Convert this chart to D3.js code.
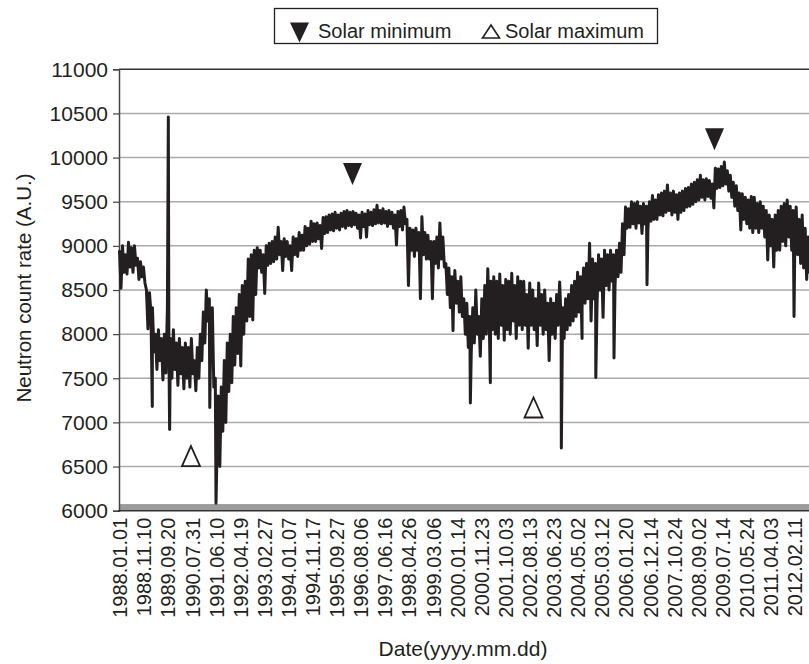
<!DOCTYPE html>
<html>
<head>
<meta charset="utf-8">
<script src="https://cdn.jsdelivr.net/npm/d3@7"></script>
<style>
  html, body { margin: 0; padding: 0; background: #fff; }
  svg { display: block; }
  text { font-family: "Liberation Sans", Arial, Helvetica, sans-serif; fill: #231f20; }
</style>
</head>
<body>
<svg id="chart" width="809" height="664"></svg>
<script>
// ---------------- DATA ----------------
const xLabels = ["1988.01.01","1988.11.10","1989.09.20","1990.07.31","1991.06.10","1992.04.19",
  "1993.02.27","1994.01.07","1994.11.17","1995.09.27","1996.08.06","1997.06.16","1998.04.26",
  "1999.03.06","2000.01.14","2000.11.23","2001.10.03","2002.08.13","2003.06.23","2004.05.02",
  "2005.03.12","2006.01.20","2006.12.14","2007.10.24","2008.09.02","2009.07.14","2010.05.24",
  "2011.04.03","2012.02.11"];
const labelStepDays = 314;          // one label every 314 daily records
const sampleStepDays = 19.5;        // spacing of the sampled count rates below
const yTicks = [6000,6500,7000,7500,8000,8500,9000,9500,10000,10500,11000];

// neutron count rate (A.U.), sampled every 19.5 records starting 1988.01.01
const countRate = [
  8950,8520,9000,8700,8900,8680,9040,8760,8980,8700,9000,8780,
  8860,8620,8820,8650,8760,8580,8500,8060,8470,8250,
  8300,7800,8000,7600,8050,7700,7950,7480,8000,7560,
  8310,7800,7950,7500,8050,7600,7900,7420,7950,7550,
  7850,7380,7900,7500,7850,7400,7950,7550,7700,7360,
  7850,7500,8000,7700,8250,7900,8500,8150,8400,8100,
  8300,7400,7500,6550,7300,6500,7400,6900,7700,7000,
  7900,7350,8000,7450,8200,7650,8300,7780,8450,7640,
  8550,8000,8600,8150,8850,8200,8900,8160,8950,8450,
  8980,8750,8950,8700,8900,8460,9000,8780,9030,8800,
  9050,8820,9100,8850,9210,8900,9050,8720,9080,8880,
  9050,8850,9000,8720,9100,8900,9080,8880,9150,8950,
  9120,8950,9220,9000,9200,9020,9280,9050,9250,9050,
  9260,9080,9230,8970,9320,9140,9330,9150,9350,9180,
  9360,9170,9380,9200,9350,9180,9370,9220,9390,9200,
  9400,9230,9380,9220,9390,9240,9370,9200,9350,9090,
  9380,9220,9360,9100,9400,9240,9380,9230,9410,9250,
  9460,9260,9400,9250,9420,9260,9390,9220,9400,9250,
  9380,9200,9350,9010,9390,9220,9400,9180,9440,9250,
  9300,8550,9200,8950,9180,8880,9200,8950,9150,8400,
  9330,8900,9150,8850,9120,8850,9050,8400,9050,8800,
  9100,8750,9260,8850,9100,8760,8800,8450,8750,8300,
  8650,8250,8720,8350,8600,8250,8650,8200,8400,8000,
  8350,7850,8200,7820,8300,7900,8500,8000,8200,7750,
  8400,7950,8550,8000,8740,8150,8600,8050,8650,8000,
  8600,7950,8680,8100,8550,7930,8620,8050,8600,8000,
  8690,8150,8550,7950,8650,8100,8600,8050,8600,8100,
  8450,7840,8580,8100,8500,8050,8400,7870,8580,8100,
  8450,8000,8500,8050,8350,7700,8400,8000,8350,7950,
  8450,8100,8590,8150,8300,7950,8400,8050,8450,8100,
  8550,8150,8600,8200,8700,8250,8650,8300,8750,8350,
  8800,8400,9030,8150,8850,8400,8800,8350,8900,8500,
  8850,8190,8950,8550,8900,8500,8950,8600,8900,8550,
  8950,8650,9030,8700,9250,8900,9440,9200,9420,9210,
  9500,9250,9480,9200,9500,9260,9450,9140,9480,9250,
  9450,9200,9500,9280,9570,9300,9520,9300,9580,9350,
  9600,9340,9620,9380,9690,9400,9600,9350,9620,9380,
  9580,9300,9600,9380,9620,9400,9650,9440,9660,9450,
  9700,9470,9720,9500,9750,9520,9800,9550,9750,9520,
  9760,9560,9740,9540,9700,9430,9880,9650,9870,9660,
  9900,9680,9950,9700,9850,9620,9800,9550,9720,9450,
  9680,9400,9600,9180,9590,9300,9550,9250,9520,9200,
  9560,9150,9550,9200,9480,9150,9500,9200,9450,9100,
  9400,8840,9350,9000,9300,8760,9350,8950,9400,8950,
  9450,9050,9480,9000,9520,9100,9450,8950,9400,8900,
  9440,8900,9300,8800,9350,8750,9200,8620,9100,8700,9050,8750
];
// single-day excursions (record index, count rate)
const spikeDays   = [427, 636, 653, 1176, 1257, 4344, 4570, 4830, 5755, 6025, 6204, 6441, 6871, 8786];
const spikeValues = [7180, 10460, 6920, 7170, 6085, 8040, 7220, 7450, 6710, 7950, 7510, 7730, 8560, 8200];

// annotation markers (record index, count rate)
const solarMinDays = [3035, 7750];
const solarMinValues = [9814, 10208];
const solarMaxDays = [931, 5393];
const solarMaxValues = [6619, 7169];

// ---------------- CHART ----------------
(function () {
const svg = d3.select("#chart");
const ink = "#231f20";
const font = '"Liberation Sans", Arial, sans-serif';
const plotLeft = 119, plotTop = 69.3, plotBottom = 510.7, plotRight = 809;

const x = d3.scaleLinear()
  .domain([0, labelStepDays * (xLabels.length - 1)])
  .range([119.5, 119.5 + 24.107 * (xLabels.length - 1)]);
const y = d3.scaleLinear().domain([6000, 11000]).range([plotBottom, plotTop]);

// gridlines
svg.append("g").selectAll("line")
  .data(yTicks.filter(t => t > 6000 && t < 11000))
  .join("line")
  .attr("x1", plotLeft).attr("x2", plotRight)
  .attr("y1", d => y(d)).attr("y2", d => y(d))
  .attr("stroke", "#aaaaaa").attr("stroke-width", 1.5);

// top border
svg.append("line").attr("x1", plotLeft).attr("x2", plotRight)
  .attr("y1", y(11000)).attr("y2", y(11000))
  .attr("stroke", "#333").attr("stroke-width", 1.5);

// floor band
svg.append("rect").attr("x", plotLeft).attr("width", plotRight - plotLeft)
  .attr("y", y(6075)).attr("height", y(6000) - y(6075))
  .attr("fill", "#9b9b9b");

// y axis
const yAxis = d3.axisLeft(y).tickValues(yTicks).tickSize(6).tickPadding(5).tickFormat(d3.format("d"));
const gy = svg.append("g").attr("transform", `translate(${plotLeft},0)`).call(yAxis);
gy.select(".domain").attr("stroke", "#444").attr("stroke-width", 1.5);
gy.selectAll(".tick line").attr("stroke", "#444").attr("stroke-width", 1.2);
gy.selectAll(".tick text").attr("font-size", 21).attr("fill", ink).style("font-family", font);

// x axis baseline
svg.append("line").attr("x1", plotLeft - 1).attr("x2", plotRight)
  .attr("y1", plotBottom).attr("y2", plotBottom)
  .attr("stroke", "#333").attr("stroke-width", 1.5);

// x labels
const xAxis = d3.axisBottom(x)
  .tickValues(xLabels.map((_, i) => i * labelStepDays))
  .tickFormat((d, i) => xLabels[i]).tickSize(0).tickPadding(0);
const gx = svg.append("g").attr("transform", `translate(0,${plotBottom})`).call(xAxis);
gx.select(".domain").remove();
gx.selectAll(".tick text")
  .attr("font-size", 20).attr("fill", ink).style("font-family", font)
  .attr("text-anchor", "end")
  .attr("transform", "translate(0,7) rotate(-90)")
  .attr("x", 0).attr("y", 0).attr("dy", "0.36em");

// data line
const pts = countRate.map((v, i) => ({ d: i * sampleStepDays, v }))
  .concat(spikeDays.map((d, i) => ({ d, v: spikeValues[i] })))
  .sort((a, b) => a.d - b.d);
const line = d3.line().x(p => x(p.d)).y(p => y(p.v));
svg.append("path").datum(pts)
  .attr("d", line)
  .attr("fill", "none").attr("stroke", ink)
  .attr("stroke-width", 3).attr("stroke-linejoin", "round");

// markers
const downTri = (cx, cy, w, h) => `M${cx - w/2},${cy - h/2}L${cx + w/2},${cy - h/2}L${cx},${cy + h/2}Z`;
const upTri = (cx, cy, w, h) => `M${cx},${cy - h/2}L${cx + w/2},${cy + h/2}L${cx - w/2},${cy + h/2}Z`;
svg.append("g").selectAll("path").data(solarMinDays)
  .join("path")
  .attr("d", (d, i) => downTri(x(d), y(solarMinValues[i]), 19, 22))
  .attr("fill", ink);
svg.append("g").selectAll("path").data(solarMaxDays)
  .join("path")
  .attr("d", (d, i) => upTri(x(d), y(solarMaxValues[i]), 18, 20))
  .attr("fill", "#fff").attr("stroke", ink).attr("stroke-width", 1.8);

// axis titles
svg.append("text").attr("transform", "translate(31,288) rotate(-90)")
  .attr("text-anchor", "middle").attr("font-size", 20.5)
  .text("Neutron count rate (A.U.)");
svg.append("text").attr("x", 463).attr("y", 656)
  .attr("text-anchor", "middle").attr("font-size", 21)
  .text("Date(yyyy.mm.dd)");

// legend
const lg = svg.append("g");
lg.append("rect").attr("x", 274.5).attr("y", 8.5).attr("width", 383).attr("height", 35)
  .attr("fill", "#fff").attr("stroke", ink).attr("stroke-width", 1.3);
lg.append("path").attr("d", downTri(299.5, 32.5, 19, 20)).attr("fill", ink);
lg.append("text").attr("x", 318).attr("y", 37.5).attr("font-size", 20).text("Solar minimum");
lg.append("path").attr("d", upTri(491, 31.5, 17, 13)).attr("fill", "none")
  .attr("stroke", ink).attr("stroke-width", 1.6);
lg.append("text").attr("x", 505).attr("y", 37.5).attr("font-size", 20).text("Solar maximum");
})();
</script>
</body>
</html>
